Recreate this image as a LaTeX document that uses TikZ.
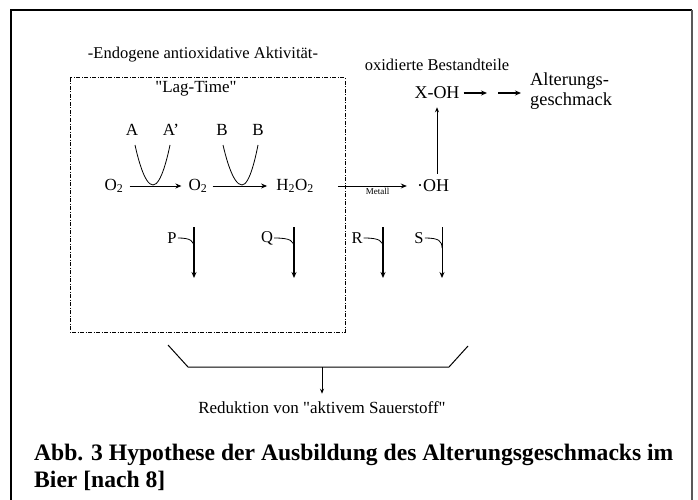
\documentclass[tikz,border=0pt]{standalone}
\usepackage{fontspec}
\setmainfont{Liberation Serif}
\newfontfamily\qfont{Liberation Serif}[Ligatures=TeXOff]
\newcommand{\sq}{{\qfont"}}
\usetikzlibrary{arrows.meta}
\begin{document}
\begin{tikzpicture}[x=1pt,y=-1pt,
  lbl/.style={inner sep=0pt, font=\fontsize{16.5}{18}\selectfont},
  chem/.style={inner sep=0pt, font=\fontsize{17}{19}\selectfont},
  arr/.style={-{Stealth[length=6pt,width=5pt]}, line width=1pt},
  thin arr/.style={-{Stealth[length=5pt,width=4pt]}, line width=0.8pt},
  dashbox/.style={line width=1pt, dash pattern=on 4pt off 1.5pt on 1pt off 1.5pt},
  hook/.style={line width=0.8pt},
  capt/.style={inner sep=0pt, anchor=north west, align=left, font=\bfseries\fontsize{23.6}{27}\selectfont},
]
\useasboundingbox (0,0) rectangle (698,500);
\fill[white] (0,0) rectangle (698,500);
% outer frame
\draw[line width=1.5pt] (11,500) -- (11,10) -- (692,10);
\draw[line width=2pt, black!65] (692,10) -- (692,500);

% dashed box and headings
\node[lbl] (endo) at (203,55) {-Endogene antioxidative Aktivität-};
\draw[dashbox] (70,78) rectangle (345,332);
\node[lbl, font=\fontsize{17}{19}\selectfont] (lag) at (196,89) {\sq Lag-Time\sq};

% top letters
\node[chem] (A1) at (132,130) {A};
\node[chem] (A2) at (171,130) {A'};
\node[chem] (B1) at (222,130) {B};
\node[chem] (B2) at (258,130) {B};

% main row
\node[chem] (o2a) at (114,186) {O\textsubscript{2}};
\node[chem] (o2b) at (198,186) {O\textsubscript{2}};
\node[chem] (h2o2) at (295,186) {H\textsubscript{2}O\textsubscript{2}};
\node[chem, font=\fontsize{18}{20}\selectfont] (oh) at (433,186) {·OH};

\draw[arr, shorten <=6pt, shorten >=7pt] (o2a.east) -- (o2b.west);
\draw[arr, shorten <=5pt, shorten >=9pt] (o2b.east) -- (h2o2.west);
\draw[arr, shorten <=24pt, shorten >=10pt] (h2o2.east) -- (oh.west)
  node[pos=0.62, below=2pt, inner sep=0pt, font=\fontsize{9}{10}\selectfont] (met) {Metall};

% parabolas
\coordinate (a1s) at (135,145);
\coordinate (a1b) at (153,185);
\coordinate (a2s) at (170,145);
\coordinate (b1s) at (223,145);
\coordinate (b1b) at (242,185);
\coordinate (b2s) at (258,145);
\draw[line width=0.8pt] (a1s) parabola bend (a1b) (a2s);
\draw[line width=0.8pt] (b1s) parabola bend (b1b) (b2s);

% oxidation branch
\node[lbl] (oxi) at (437,65) {oxidierte Bestandteile};
\node[chem, font=\fontsize{18}{20}\selectfont] (xoh) at (437,93) {X-OH};
\node[chem, anchor=west, align=left, font=\fontsize{18.4}{20}\selectfont] (alt) at (530,91) {Alterungs-\\geschmack};
\draw[thin arr, shorten <=6pt, shorten >=8pt] (oh.north -| xoh.south) -- (xoh.south);
\coordinate (m1) at (487,93);
\coordinate (m2) at (498,93);
\draw[arr, line width=1.5pt, shorten <=4pt] (xoh.east) -- (m1);
\draw[arr, line width=1.5pt, shorten >=9pt] (m2) -- (alt.west |- m2);

% reduction arrows
\foreach \n/\lx/\ax/\w in {P/172/194/1.2, Q/267/294/1.2, R/357/383/1.2, S/419/442/0.9}{
  \node[lbl] (\n) at (\lx,238) {\n};
  \coordinate (\n t) at (\ax,227);
  \coordinate (\n b) at (\ax,278);
  \coordinate (\n j) at (\ax,248);
  \draw[arr, line width=\w pt] (\n t) -- (\n b);
  \draw[hook] ([xshift=1pt]\n.east) .. controls ([xshift=-3pt]\n j |- \n.east) and (\n j |- 0,241) .. (\n j);
}

% bracket
\coordinate (bl1) at (168,345);
\coordinate (bl2) at (188,367);
\coordinate (br2) at (449,367);
\coordinate (br1) at (468,346);
\coordinate (bm) at (322,367);
\draw[line width=1pt] (bl1) -- (bl2) -- (br2) -- (br1);
\node[lbl, font=\fontsize{17}{19}\selectfont] (red) at (322,408) {Reduktion von \sq aktivem Sauerstoff\sq};
\draw[thin arr] (bm) -- ([yshift=8pt]red.north);

% caption
\node[capt] (cap) at (34,444) {Abb. 3 Hypothese der Ausbildung des Alterungsgeschmacks im\\Bier [nach 8]};
\end{tikzpicture}
\end{document}
